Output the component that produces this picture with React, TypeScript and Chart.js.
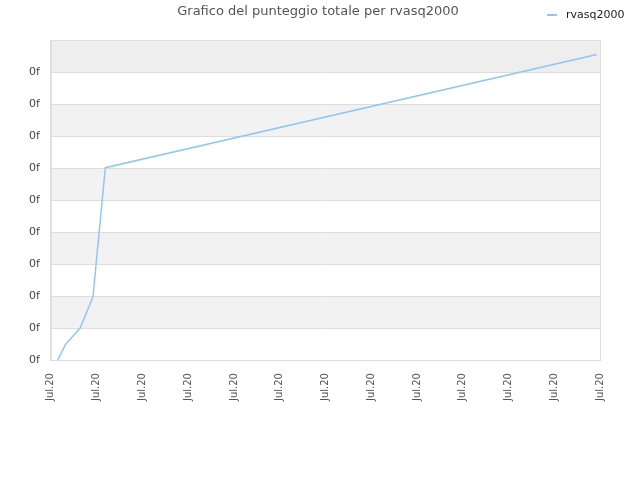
import { useEffect, useRef } from 'react';
import Chart from 'chart.js/auto';

const seriesName = 'rvasq2000';
const chartTitle = 'Grafico del punteggio totale per rvasq2000';
const xPositions = [0.15, 0.32, 0.64, 0.92, 1.19, 11.93];
const scores = [0, 0.49, 1.0, 1.98, 6.01, 9.55];
const xTickLabel = 'Jul.20';
const yTickLabel = '0f';
const lineColor = '#92c5f5';

// alternating bands, frame, title and legend drawn on the canvas
const decorations = {
    id: 'decorations',
    beforeDraw(chart: any) {
        const { ctx, chartArea } = chart;
        const y = chart.scales.y;
        ctx.save();
        for (let v = 0; v < 10; v++) {
            let color = v % 2 === 1 ? '#f2f2f2' : '#ffffff';
            if (v === 9) color = '#eeeeee';
            const top = y.getPixelForValue(v + 1);
            const bottom = y.getPixelForValue(v);
            ctx.fillStyle = color;
            ctx.fillRect(chartArea.left, top, chartArea.right - chartArea.left, bottom - top);
        }
        ctx.restore();
    },
    afterDraw(chart: any) {
        const { ctx, chartArea, width } = chart;
        ctx.save();
        ctx.strokeStyle = '#dddddd';
        ctx.lineWidth = 1;
        ctx.strokeRect(chartArea.left + 0.5, chartArea.top + 0.5, chartArea.right - chartArea.left, chartArea.bottom - chartArea.top);

        ctx.fillStyle = '#555555';
        ctx.font = '13px "DejaVu Sans"';
        ctx.textAlign = 'center';
        ctx.textBaseline = 'middle';
        ctx.fillText(chartTitle, width / 2 - 2, 12);

        ctx.strokeStyle = lineColor;
        ctx.lineWidth = 2;
        ctx.beginPath();
        ctx.moveTo(547, 15);
        ctx.lineTo(557, 15);
        ctx.stroke();
        ctx.fillStyle = '#222222';
        ctx.font = '11px "DejaVu Sans"';
        ctx.textAlign = 'left';
        ctx.fillText(seriesName, 566, 15);
        ctx.restore();
    },
};

export default function App() {
    const canvasRef = useRef<HTMLCanvasElement | null>(null);
    const chartRef = useRef<Chart | null>(null);

    useEffect(() => {
        if (!canvasRef.current) return;
        chartRef.current?.destroy();
        chartRef.current = new Chart(canvasRef.current, {
            type: 'line',
            data: {
                datasets: [
                    {
                        label: seriesName,
                        data: xPositions.map((x, i) => ({ x, y: scores[i] })),
                        borderColor: lineColor,
                        backgroundColor: lineColor,
                        borderWidth: 1.5,
                        pointRadius: 0,
                        tension: 0,
                    },
                ],
            },
            options: {
                animation: false,
                responsive: true,
                maintainAspectRatio: false,
                layout: { padding: { left: 18, right: 40, top: 40, bottom: 66 } },
                plugins: {
                    title: { display: false },
                    tooltip: { enabled: false },
                    legend: { display: false },
                },
                scales: {
                    x: {
                        type: 'linear',
                        min: 0,
                        max: 12,
                        ticks: {
                            stepSize: 1,
                            autoSkip: false,
                            maxRotation: 90,
                            minRotation: 90,
                            padding: 13,
                            color: '#555555',
                            font: { family: 'DejaVu Sans', size: 10 },
                            callback: () => xTickLabel,
                        },
                        grid: { display: false, drawTicks: false },
                        border: { color: '#dddddd' },
                    },
                    y: {
                        min: 0,
                        max: 10,
                        ticks: {
                            stepSize: 1,
                            padding: 11,
                            color: '#444444',
                            font: { family: 'DejaVu Sans', size: 11 },
                            callback: (v: any) => (v === 10 ? '' : yTickLabel),
                        },
                        grid: { color: '#dddddd', drawTicks: false },
                        border: { color: '#dddddd' },
                    },
                },
            },
            plugins: [decorations],
        });
        return () => chartRef.current?.destroy();
    }, []);

    return (
        <div style={{ position: 'fixed', left: 0, top: 0, width: 640, height: 480, background: '#fff' }}>
            <canvas ref={canvasRef} />
        </div>
    );
}
